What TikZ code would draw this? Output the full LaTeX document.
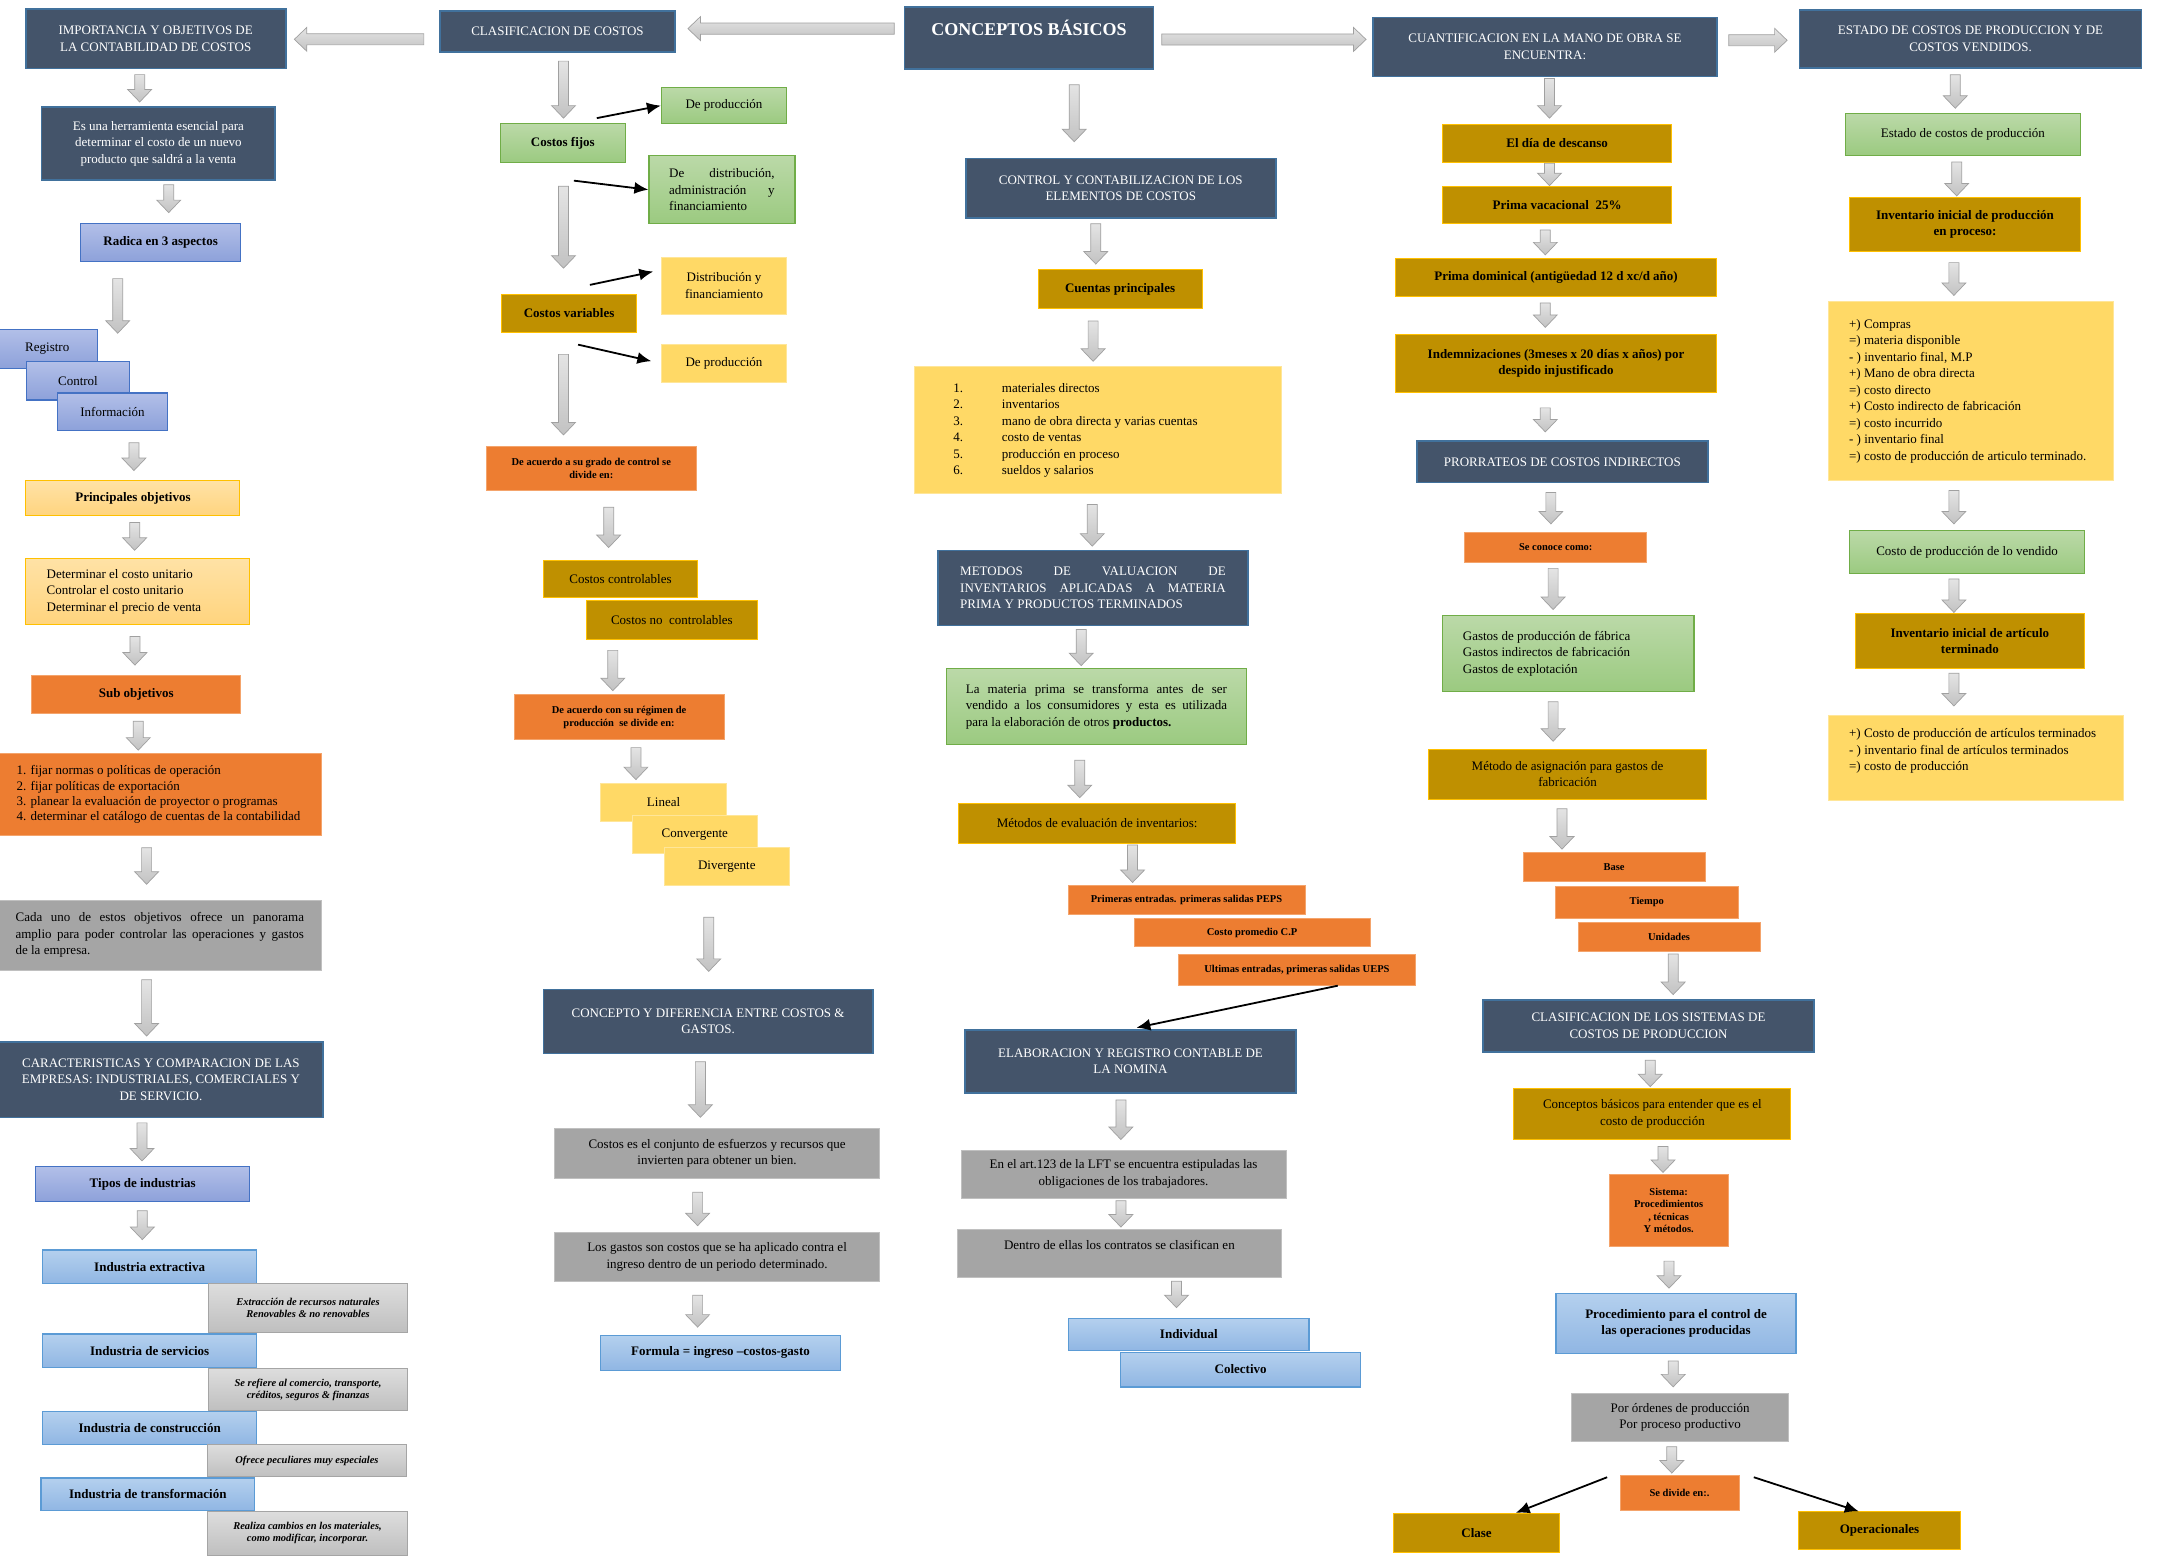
\documentclass[tikz,border=0pt]{standalone}
\usepackage{fontspec}
\setmainfont{Liberation Serif}
\usetikzlibrary{arrows.meta}
\definecolor{dkF}{HTML}{44546A}\definecolor{dkB}{HTML}{41719C}
\definecolor{puT}{HTML}{B2BFE8}\definecolor{puB}{HTML}{8DA1DA}\definecolor{puD}{HTML}{4472C4}
\definecolor{lbT}{HTML}{B4D0EE}\definecolor{lbB}{HTML}{90B6E3}\definecolor{lbD}{HTML}{5B9BD5}
\definecolor{grT}{HTML}{BBD9A8}\definecolor{grB}{HTML}{9BCA80}\definecolor{grD}{HTML}{70AD47}
\definecolor{lyT}{HTML}{FFE2A6}\definecolor{lyB}{HTML}{FFD47E}\definecolor{lyD}{HTML}{FFC000}
\definecolor{yeF}{HTML}{FFD966}\definecolor{yeD}{HTML}{FFE699}
\definecolor{goF}{HTML}{BF9000}\definecolor{goD}{HTML}{FFC000}
\definecolor{orF}{HTML}{ED7D31}\definecolor{orD}{HTML}{F4A46C}
\definecolor{gyF}{HTML}{A5A5A5}\definecolor{gyD}{HTML}{C0C0C0}
\definecolor{lgT}{HTML}{DDDDDD}\definecolor{lgB}{HTML}{BFBFBF}\definecolor{lgD}{HTML}{A5A5A5}
\definecolor{arT}{HTML}{E4E4E4}\definecolor{arB}{HTML}{C2C2C2}\definecolor{arD}{HTML}{A0A0A0}
\newcommand{\fnorm}{\fontsize{13}{16.5}\selectfont}
\newcommand{\fsml}{\fontsize{10.5}{13}\selectfont\bfseries}
\newcommand{\fitl}{\fontsize{10.5}{12}\selectfont\bfseries\itshape}
\newcommand{\fbig}{\fontsize{18}{22}\selectfont\bfseries}
\newcommand{\bx}[7]{%
 \pgfmathsetmacro\bw{(#5-(#3))*1.3897}%
 \pgfmathsetmacro\bh{(#6-(#4))*1.3897}%
 \node[box,#1,minimum width=\bw pt,minimum height=\bh pt] (#2) at ({(#3+#5)/2},{(#4+#6)/2}) {#7};}
\newcommand{\lst}[2]{\makebox[\dimexpr\bw pt-#1pt*2\relax][l]{\begin{tabular}{@{}l@{}}#2\end{tabular}}}
\newcommand{\jst}[2]{\parbox{\dimexpr\bw pt-#1pt*2\relax}{#2}}
\newcommand{\nm}[1]{\makebox[48.6pt][l]{#1}}
\newcommand{\darr}[3]{\path[barr] (#1-3.6,#2) -- (#1+3.6,#2) -- (#1+3.6,#3-9) -- (#1+8.6,#3-9) -- (#1,#3) -- (#1-8.6,#3-9) -- (#1-3.6,#3-9) -- cycle;}
\newcommand{\rarr}[3]{\path[barr] (#2,#1-4) -- (#3-9,#1-4) -- (#3-9,#1-8.6) -- (#3,#1) -- (#3-9,#1+8.6) -- (#3-9,#1+4) -- (#2,#1+4) -- cycle;}
\newcommand{\larr}[3]{\path[barr] (#3,#1-4) -- (#2+9,#1-4) -- (#2+9,#1-8.6) -- (#2,#1) -- (#2+9,#1+8.6) -- (#2+9,#1+4) -- (#3,#1+4) -- cycle;}
\begin{document}
\begin{tikzpicture}[x=1.3897pt,y=-1.3897pt,
 box/.style={inner sep=0pt, align=center, font=\fnorm, text=black},
 dk/.style={box, fill=dkF, draw=dkB, line width=1.6pt, text=white},
 pu/.style={box, top color=puT, bottom color=puB, draw=puD, line width=1.2pt},
 lb/.style={box, top color=lbT, bottom color=lbB, draw=lbD, line width=1.2pt, font=\fnorm\bfseries},
 gr/.style={box, top color=grT, bottom color=grB, draw=grD, line width=1.2pt},
 ly/.style={box, top color=lyT, bottom color=lyB, draw=lyD, line width=1pt},
 ye/.style={box, fill=yeF, draw=yeD, line width=0.8pt},
 go/.style={box, fill=goF, draw=goD, line width=1pt},
 or/.style={box, fill=orF, draw=orD, line width=0.8pt},
 ors/.style={or, font=\fsml},
 gy/.style={box, fill=gyF, draw=gyD, line width=0.8pt},
 lg/.style={box, top color=lgT, bottom color=lgB, draw=lgD, line width=1pt, font=\fitl},
 barr/.style={draw=arD, line width=0.7pt, top color=arT, bottom color=arB},
 blk/.style={-{Latex[length=14pt,width=12pt]}, line width=1.8pt, black}]
\fill[white] (0,0) rectangle (1568,1122);
\useasboundingbox (0,0) rectangle (1568,1122);
% ---------- top row ----------
\bx{dk}{t1}{18.5}{6.4}{205.6}{49.4}{IMPORTANCIA Y OBJETIVOS DE\\LA CONTABILIDAD DE COSTOS}
\bx{dk}{t2}{316.6}{8}{485.7}{37.6}{CLASIFICACION DE COSTOS}
\bx{dk,font=\fbig,text height=13pt,text depth=17pt}{t3}{651}{5}{830}{49.5}{CONCEPTOS BÁSICOS}
\bx{dk}{t4}{988}{12.5}{1235.5}{55}{CUANTIFICACION EN LA MANO DE OBRA SE\\ENCUENTRA:}
\bx{dk}{t5}{1295}{7}{1541}{49}{ESTADO DE COSTOS DE PRODUCCION Y DE\\COSTOS VENDIDOS.}
\larr{28.3}{211.8}{305}
\larr{20.6}{495}{643.5}
\rarr{28.4}{836}{983}
\rarr{29}{1244}{1286}
% ---------- column 1 ----------
\darr{100.5}{53.7}{73.4}
\bx{dk}{c1a}{30}{77}{198}{129.6}{Es una herramienta esencial para\\determinar el costo de un nuevo\\producto que saldrá a la venta}
\darr{121.4}{133}{153}
\bx{pu}{c1b}{58}{160.7}{173.2}{188.3}{\bfseries Radica en 3 aspectos}
\darr{84.7}{200.5}{239.8}
\bx{pu}{reg}{-2}{236.9}{70}{264.9}{Registro}
\bx{pu}{ctl}{19.2}{260.3}{93}{287.8}{Control}
\bx{pu}{inf}{41.5}{282.8}{120.4}{309.6}{Información}
\darr{96.4}{318.6}{338.6}
\bx{ly}{po}{18.7}{346}{172.7}{371.3}{\bfseries Principales objetivos}
\darr{96.9}{376}{396}
\bx{ly}{pol}{18.7}{401.6}{179.4}{449.3}{\lst{20.7}{Determinar el costo unitario\\Controlar el costo unitario\\Determinar el precio de venta}}
\darr{97.1}{458}{478.6}
\bx{or}{so}{22.8}{485.8}{173.2}{513.7}{\bfseries Sub objetivos}
\darr{99.5}{519}{539.8}
\bx{or}{sol}{-1}{542}{231.5}{601.4}{\lst{18}{1. fijar normas o políticas de operación\\[-1.3pt]2. fijar políticas de exportación\\[-1.3pt]3. planear la evaluación de proyector o programas\\[-1.3pt]4. determinar el catálogo de cuentas de la contabilidad}}
\darr{105.5}{610}{636.3}
\bx{gy}{cada}{-1}{648}{231}{698}{\jst{17}{Cada uno de estos objetivos ofrece un panorama\linebreak amplio para poder controlar las operaciones y gastos\linebreak de la empresa.}}
\darr{105.5}{705}{745.5}
\bx{dk}{car}{-1}{750}{232.6}{804}{CARACTERISTICAS Y COMPARACION DE LAS\\EMPRESAS: INDUSTRIALES, COMERCIALES Y\\DE SERVICIO.}
\darr{102.2}{808}{835.4}
\bx{pu}{tip}{25.7}{839.4}{179.7}{864.5}{\bfseries Tipos de industrias}
\darr{102.4}{871.2}{892}
\bx{lb}{ie}{30.7}{899.5}{184.7}{923.7}{Industria extractiva}
\bx{lg}{ie2}{150}{923.7}{293.4}{958.8}{Extracción de recursos naturales\\Renovables \& no renovables}
\bx{lb}{is}{30.7}{960}{184.7}{984.2}{Industria de servicios}
\bx{lg}{is2}{150}{985}{293.4}{1015}{Se refiere al comercio, transporte,\\créditos, seguros \& finanzas}
\bx{lb}{ic}{30.7}{1015.6}{184.7}{1039.6}{Industria de construcción}
\bx{lg}{ic2}{149.2}{1039.6}{292.6}{1062.8}{Ofrece peculiares muy especiales}
\bx{lb}{it}{29.5}{1063.5}{183.3}{1087}{Industria de transformación}
\bx{lg}{it2}{149.2}{1087.8}{293.4}{1119}{Realiza cambios en los materiales,\\como modificar, incorporar.}
% ---------- column 2 ----------
\darr{405.5}{44}{85}
\bx{gr}{cf}{360}{89}{450}{117}{\bfseries Costos fijos}
\bx{gr}{dp1}{476}{63}{566}{89}{De producción}
\bx{gr}{dda}{467}{112}{572}{161}{\jst{20.2}{De distribución,\linebreak administración y\linebreak financiamiento}}
\darr{405.5}{134}{193}
\bx{ye}{dy1}{476}{185}{566}{226}{Distribución y\\financiamiento}
\bx{go}{cv}{361}{212}{458}{239}{\bfseries Costos variables}
\bx{ye}{dp2}{476}{248}{566}{275}{De producción}
\coordinate (a1) at (429.5,85);
\coordinate (a2) at (413,130);
\coordinate (a3) at (424.5,205);
\coordinate (a4) at (416,248);
\draw[blk] (a1) -- (dp1.west);
\draw[blk] (a2) -- (dda.west);
\draw[blk,shorten >=8pt] (a3) -- (dy1.166);
\draw[blk,shorten >=10pt] (a4) -- (dp2.west);
\darr{405.5}{255}{313}
\bx{ors}{ga}{350}{321}{501}{353}{De acuerdo a su grado de control se\\divide en:}
\darr{438}{365}{394}
\bx{go}{cc}{391}{403}{502}{430}{Costos controlables}
\bx{go}{cnc}{422}{432}{545}{460}{Costos no\ \ controlables}
\darr{441}{468}{497}
\bx{ors}{rp}{370}{500}{521}{532}{De acuerdo con su régimen de\\producción\ \ se divide en:}
\darr{457.6}{538}{561}
\bx{ye}{lin}{432}{564}{523}{591}{Lineal}
\bx{ye}{con}{455}{587}{545}{614}{Convergente}
\bx{ye}{div}{478}{610}{568}{637}{Divergente}
\darr{510}{660}{699}
\bx{dk}{cdg}{391}{712}{628}{758}{CONCEPTO Y DIFERENCIA ENTRE COSTOS \&\\GASTOS.}
\darr{504}{764}{804}
\bx{gy}{ce}{399}{812}{633}{848}{Costos es el conjunto de esfuerzos y recursos que\\invierten para obtener un bien.}
\darr{502}{858}{882}
\bx{gy}{lgs}{399}{887}{633}{922}{Los gastos son costos que se ha aplicado contra el\\ingreso dentro de un periodo determinado.}
\darr{502}{932}{955}
\bx{lb}{form}{432}{961}{605}{986}{Formula = ingreso –costos-gasto}
% ---------- column 3 ----------
\darr{773}{61}{102}
\bx{dk}{cce}{695}{114}{918}{157}{CONTROL Y CONTABILIZACION DE LOS\\ELEMENTOS DE COSTOS}
\darr{788.5}{161}{190}
\bx{go}{cp}{747}{194}{865}{222}{\bfseries Cuentas principales}
\darr{786.6}{231}{260}
\bx{ye}{cpl}{658}{264}{922}{355}{\lst{38.9}{\nm{1.}materiales directos\\\nm{2.}inventarios\\\nm{3.}mano de obra directa y varias cuentas\\\nm{4.}costo de ventas\\\nm{5.}producción en proceso\\\nm{6.}sueldos y salarios}}
\darr{786}{363}{393}
\bx{dk}{mv}{675}{396}{898}{450}{\jst{22.2}{METODOS DE VALUACION DE\linebreak INVENTARIOS APLICADAS A MATERIA\linebreak PRIMA Y PRODUCTOS TERMINADOS}}
\darr{778}{453}{479}
\bx{gr}{mp}{681}{481}{897}{536}{\jst{19.5}{La materia prima se transforma antes de ser\linebreak vendido a los consumidores y esta es utilizada\linebreak para la elaboración de otros \textbf{productos.}}}
\darr{777}{547}{574}
\bx{go}{mei}{690}{578}{889}{607}{Métodos de evaluación de inventarios:}
\darr{815}{608}{635}
\bx{ors}{peps}{768.5}{637}{939}{658}{Primeras entradas. primeras salidas PEPS}
\bx{ors}{cpp}{816}{661}{986}{681}{Costo promedio C.P}
\bx{ors}{ueps}{848}{687}{1018.5}{709}{Ultimas entradas, primeras salidas UEPS}
\bx{dk}{elab}{694.5}{741}{932.5}{786.5}{ELABORACION Y REGISTRO CONTABLE DE\\LA NOMINA}
\draw[blk,shorten >=6pt] (ueps.-21) -- (elab.north);
\darr{806.6}{791.5}{820}
\bx{gy}{art}{691.5}{827.5}{925.5}{862}{En el art.123 de la LFT se encuentra estipuladas las\\obligaciones de los trabajadores.}
\darr{806.6}{864}{883}
\bx{gy}{den}{689}{884.5}{922}{919}{\begin{tabular}{@{}c@{}}Dentro de ellas los contratos se clasifican en\\[-3.5pt]\mbox{}\end{tabular}}
\darr{846.6}{922}{941}
\bx{lb}{indv}{769}{948.5}{942}{972}{Individual}
\bx{lb}{colc}{806.5}{973}{979}{998}{Colectivo}
% ---------- column 4 ----------
\darr{1115}{56.5}{85}
\bx{go}{dd}{1038}{89.5}{1203}{116.7}{\bfseries El día de descanso}
\darr{1115}{117.5}{133.6}
\bx{go}{pv}{1038}{134}{1203}{161}{\bfseries Prima vacacional\ \ 25\%}
\darr{1112}{165.5}{183.4}
\bx{go}{pd}{1004}{185.8}{1235.5}{213}{\bfseries Prima dominical (antigüedad 12 d xc/d año)}
\darr{1112}{218}{235.6}
\bx{go}{indm}{1004}{240.6}{1235.5}{282.5}{\bfseries Indemnizaciones (3meses x 20 días x años) por\\\bfseries despido injustificado}
\darr{1112}{293.5}{310.8}
\bx{dk}{pci}{1019.5}{317.5}{1229}{347.3}{PRORRATEOS DE COSTOS INDIRECTOS}
\darr{1116}{354.4}{377}
\bx{ors}{scc}{1054}{383}{1185}{404.6}{Se conoce como:}
\darr{1117.6}{409}{438.6}
\bx{gr}{gpf}{1038}{443}{1219}{497.6}{\lst{20.4}{Gastos de producción de fábrica\\Gastos indirectos de fabricación\\Gastos de explotación}}
\darr{1117.6}{505}{533.4}
\bx{go}{mag}{1028}{539}{1228}{575}{Método de asignación para gastos de\\fabricación}
\darr{1124}{582}{611}
\bx{ors}{base}{1096}{613.5}{1227}{634}{Base}
\bx{ors}{tiem}{1119.5}{637.5}{1250.6}{660.6}{Tiempo}
\bx{ors}{unid}{1135.6}{664}{1266.5}{684.6}{Unidades}
\darr{1204}{686.5}{715.7}
\bx{dk}{csp}{1067}{719.6}{1305.5}{757}{CLASIFICACION DE LOS SISTEMAS DE\\COSTOS DE PRODUCCION}
\darr{1187.5}{763}{782}
\bx{go}{cbp}{1089.4}{783}{1288.7}{820}{Conceptos básicos para entender que es el\\costo de producción}
\darr{1196.7}{825}{843.7}
\bx{ors,font=\fontsize{10.5}{12.5}\selectfont\bfseries}{sis}{1158}{845}{1243.5}{897}{Sistema:\\Procedimientos\\, técnicas\\Y métodos.}
\darr{1201}{907.5}{927}
\bx{lb}{proc}{1119.7}{931}{1292.4}{973.8}{Procedimiento para el control de\\las operaciones producidas}
\darr{1204}{979.4}{998}
\bx{gy}{por}{1131}{1002.5}{1287}{1037.4}{Por órdenes de producción\\Por proceso productivo}
\darr{1203}{1041}{1060}
\bx{ors}{sdiv}{1165.7}{1061.7}{1251.4}{1086.7}{Se divide en:.}
\bx{go}{clase}{1003}{1089}{1122}{1117}{\bfseries Clase}
\bx{go}{oper}{1294}{1088}{1411}{1115}{\bfseries Operacionales}
\coordinate (s1) at (1156.5,1063);
\coordinate (s2) at (1262,1063);
\draw[blk] (s1) -- (clase.27);
\draw[blk] (s2) -- (oper.137);
% ---------- column 5 ----------
\darr{1407}{53.8}{77.9}
\bx{gr}{ecp}{1328}{81.7}{1497}{111.7}{Estado de costos de producción}
\darr{1408}{116.6}{141}
\bx{go}{iip}{1331}{142}{1497}{181}{\bfseries Inventario inicial de producción\\\bfseries en proceso:}
\darr{1406}{189}{212.6}
\bx{ye}{l5}{1316}{217}{1521}{345.5}{\lst{20.3}{+) Compras\\=) materia disponible\\- ) inventario final, M.P\\+) Mano de obra directa\\=) costo directo\\+) Costo indirecto de fabricación\\=) costo incurrido\\- ) inventario final\\=) costo de producción de articulo terminado.}}
\darr{1406}{353}{377}
\bx{gr}{cpv}{1331}{382}{1500}{412.5}{Costo de producción de lo vendido}
\darr{1406}{416.6}{440.7}
\bx{go}{iia}{1335}{441.5}{1500}{481}{\bfseries Inventario inicial de artículo\\\bfseries terminado}
\darr{1406}{484.4}{508}
\bx{ye}{l5b}{1316}{515}{1528}{576}{\lst{20.3}{+) Costo de producción de artículos terminados\\- ) inventario final de artículos terminados\\=) costo de producción\\[-2.3pt]\mbox{}}}
\end{tikzpicture}
\end{document}
